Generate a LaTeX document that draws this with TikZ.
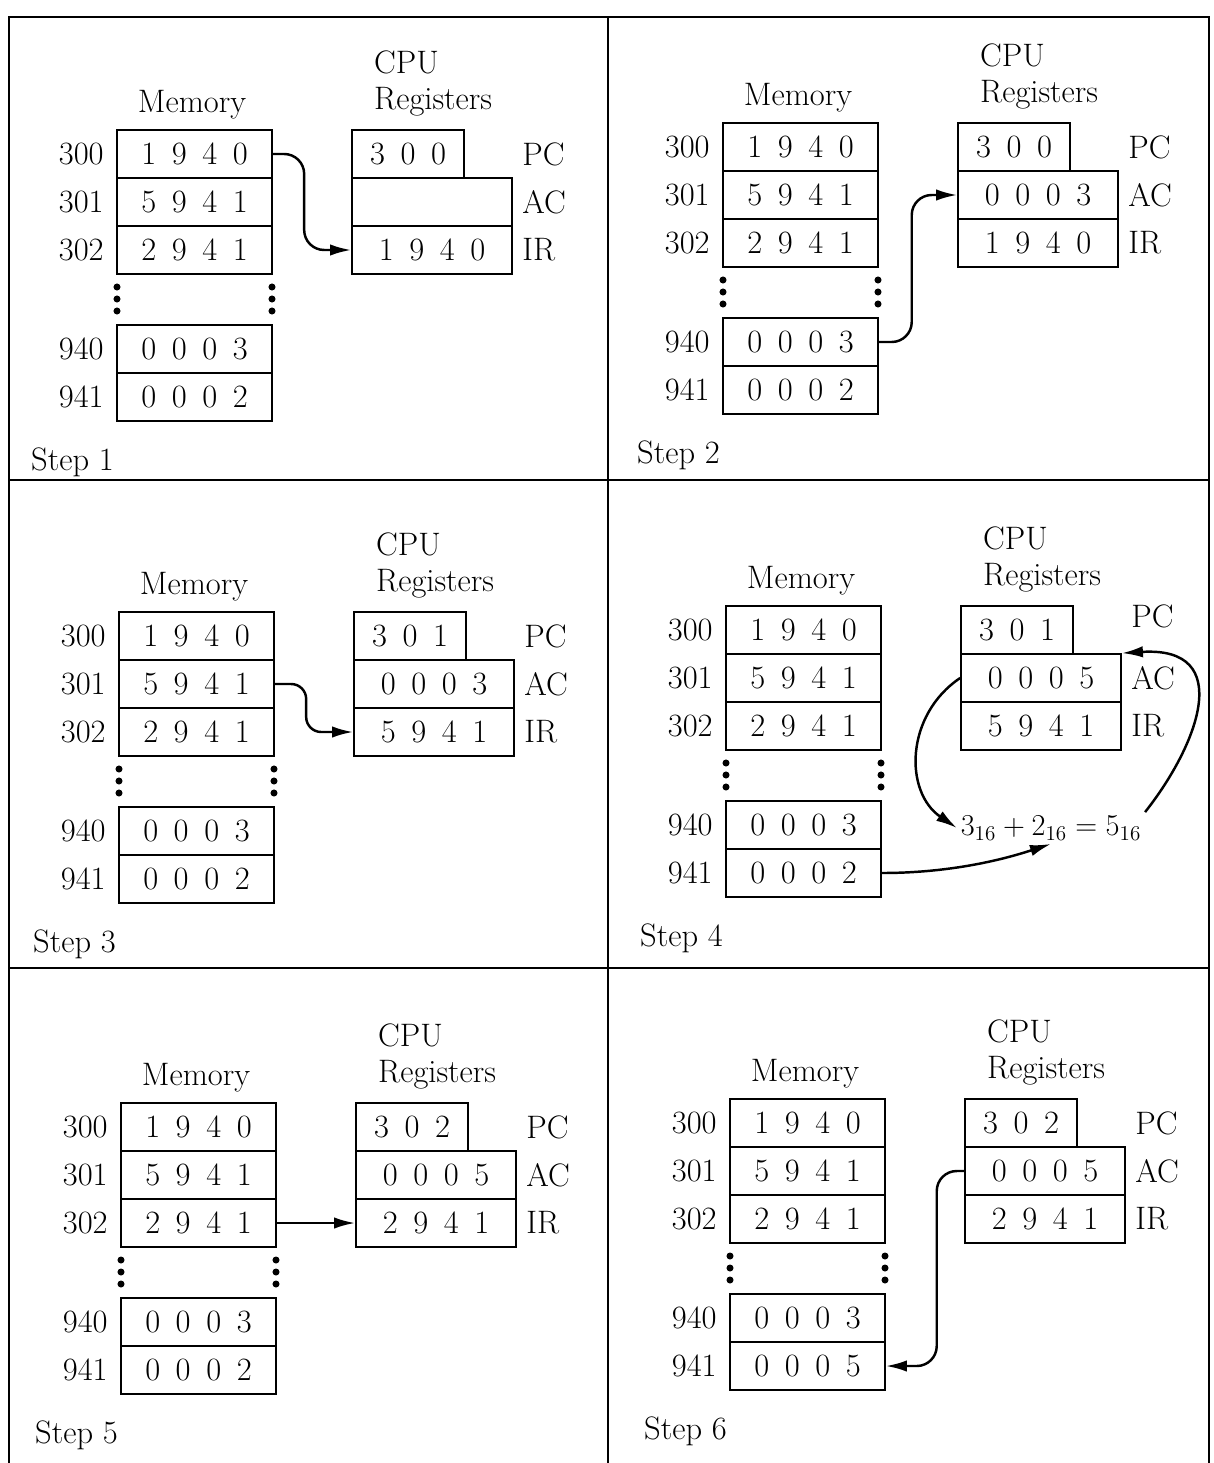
\documentclass[tikz,border=0pt]{standalone}
\usepackage{tikz}
\usetikzlibrary{arrows.meta,calc}
\tikzset{
  cell/.style={rectangle,draw,line width=1pt,minimum width=3.1cm,minimum height=0.96cm,inner sep=0pt,
               execute at begin node={\spaceskip=0.48em\relax}},
  pcreg/.style={cell,minimum width=2.24cm},
  reg/.style={cell,minimum width=3.2cm},
  addr/.style={anchor=east,inner sep=0pt},
  rlab/.style={anchor=west,inner sep=0pt},
  frame/.style={line width=1.1pt},
  fl/.style={-{Latex[length=12pt,width=6.5pt]},line width=1.4pt,rounded corners=0.4cm},
}
% one panel: prefix, dx, dy, PC, AC, IR, word 941, step, y of PC label
\newcommand{\cpupanel}[9]{%
  \begin{scope}[shift={(#2,#3)}]
    \node (#1mem) at (192,105) {Memory};
    \node[anchor=west] (#1cpu) at (368,62) {CPU};
    \node[anchor=west] (#1regs) at (368,102) {Registers};
    \node[cell] (#1300) at (194.5,154) {1 9 4 0};
    \node[cell] (#1301) at (194.5,202) {5 9 4 1};
    \node[cell] (#1302) at (194.5,250) {2 9 4 1};
    \node[cell] (#1940) at (194.5,349) {0 0 0 3};
    \node[cell] (#1941) at (194.5,397) {#7};
    \node[addr] (#1l300) at (104,154) {300};
    \node[addr] (#1l301) at (104,202) {301};
    \node[addr] (#1l302) at (104,250) {302};
    \node[addr] (#1l940) at (104,349) {940};
    \node[addr] (#1l941) at (104,397) {941};
    \foreach \y in {287,299,311} {
      \fill (117,\y) circle (2pt);
      \fill (272,\y) circle (2pt);
    }
    \node[pcreg] (#1PC) at (408,154) {#4};
    \node[reg] (#1AC) at (432,202) {#5};
    \node[reg] (#1IR) at (432,250) {#6};
    \node[rlab] (#1pcl) at (522,#9) {PC};
    \node[rlab] (#1acl) at (522,202) {AC};
    \node[rlab] (#1irl) at (522,250) {IR};
    \node[anchor=west] (#1step) at (25,462) {Step #8};
  \end{scope}}

\begin{document}
\begin{tikzpicture}[x=0.02cm,y=-0.02cm,font=\fontsize{18.5}{22}\selectfont]
  \useasboundingbox (0,0) rectangle (1213,1463);
  % frame and dividers
  \draw[frame] (9,1463) -- (9,17) -- (1209,17) -- (1209,1463);
  \draw[frame] (608,17) -- (608,1463);
  \draw[frame] (9,480) -- (1209,480);
  \draw[frame] (9,968) -- (1209,968);

  \cpupanel{a}{0}{0}{3 0 0}{}{1 9 4 0}{0 0 0 2}{1}{154}
  \cpupanel{b}{606}{-7}{3 0 0}{0 0 0 3}{1 9 4 0}{0 0 0 2}{2}{154}
  \cpupanel{c}{2}{482}{3 0 1}{0 0 0 3}{5 9 4 1}{0 0 0 2}{3}{154}
  \cpupanel{d}{609}{476}{3 0 1}{0 0 0 5}{5 9 4 1}{0 0 0 2}{4}{140}
  \cpupanel{e}{4}{973}{3 0 2}{0 0 0 5}{2 9 4 1}{0 0 0 2}{5}{154}
  \cpupanel{f}{613}{969}{3 0 2}{0 0 0 5}{2 9 4 1}{0 0 0 5}{6}{154}

  % fetch, load, next fetch
  \coordinate (akink) at ($(a300.east)!.4!(aIR.west)$);
  \coordinate (bkink) at ($(b940.east)!.42!(bAC.west)$);
  \coordinate (ckink) at ($(c301.east)!.4!(cIR.west)$);
  \draw[fl] (a300.east) -| (akink |- aIR.west) -- (aIR.west);
  \draw[fl] (b940.east) -| (bkink |- bAC.west) -- (bAC.west);
  \draw[fl,rounded corners=0.3cm] (c301.east) -| (ckink |- cIR.west) -- (cIR.west);
  % add
  \node[inner sep=2pt] (eq) at (1051,828) {$3_{16}+2_{16}=5_{16}$};
  \draw[fl] (dAC.west) .. controls +(-55,37) and +(-53,-36) .. (eq.west);
  \draw[fl] (d941.east) .. controls +(77,0) and +(-37,12) .. (eq.south);
  \draw[fl] (eq.north east) .. controls +(53,-67) and +(114,-7) .. (dAC.north east);
  % store
  \draw[fl] (e302.east) -- (eIR.west);
  \coordinate (fkink) at ($(fAC.west)!.35!(f941.east)$);
  \draw[fl] (fAC.west) -| (fkink |- f941.east) -- (f941.east);
\end{tikzpicture}
\end{document}
